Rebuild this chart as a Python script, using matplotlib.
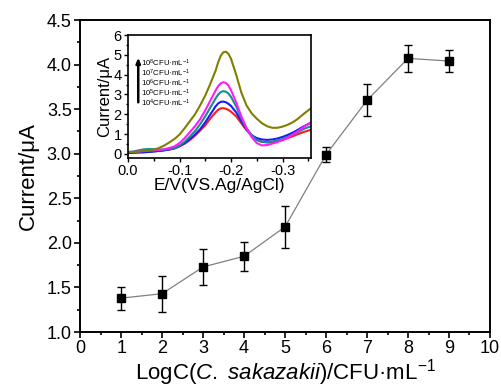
import matplotlib
matplotlib.use("Agg")
import matplotlib.pyplot as plt
from matplotlib.ticker import MultipleLocator

plt.rcParams['font.family'] = ['Liberation Sans', 'DejaVu Sans']
plt.rcParams['mathtext.fontset'] = 'custom'
plt.rcParams['mathtext.rm'] = 'Liberation Sans'
plt.rcParams['mathtext.it'] = 'Liberation Sans:italic'
plt.rcParams['mathtext.bf'] = 'Liberation Sans:bold'

# Main calibration data
log_c = [1, 2, 3, 4, 5, 6, 7, 8, 9]
current = [1.38, 1.43, 1.73, 1.85, 2.18, 2.99, 3.60, 4.07, 4.04]
current_err = [0.13, 0.20, 0.20, 0.16, 0.235, 0.08, 0.18, 0.15, 0.12]

# Inset DPV curves
potential = [0.0, -0.01, -0.02, -0.03, -0.04, -0.05, -0.06, -0.07, -0.08, -0.09,
             -0.10, -0.11, -0.12, -0.13, -0.14, -0.15, -0.16, -0.17, -0.175, -0.18,
             -0.185, -0.19, -0.195, -0.20, -0.21, -0.22, -0.23, -0.24, -0.25, -0.26,
             -0.27, -0.28, -0.29, -0.30, -0.31, -0.32, -0.33, -0.34, -0.355]
i_1e8 = [0.10, 0.10, 0.12, 0.15, 0.18, 0.22, 0.30, 0.42, 0.58, 0.75,
         0.98, 1.30, 1.65, 2.00, 2.45, 2.95, 3.55, 4.20, 4.62, 4.95,
         5.13, 5.16, 5.05, 4.80, 4.00, 3.10, 2.45, 2.05, 1.78, 1.55,
         1.40, 1.32, 1.32, 1.38, 1.47, 1.60, 1.78, 2.00, 2.30]
i_1e7 = [0.10, 0.10, 0.12, 0.15, 0.17, 0.18, 0.20, 0.24, 0.30, 0.38,
         0.55, 0.80, 1.10, 1.40, 1.75, 2.20, 2.70, 3.20, 3.42, 3.56,
         3.62, 3.58, 3.45, 3.22, 2.60, 1.90, 1.30, 0.85, 0.55, 0.43,
         0.45, 0.52, 0.60, 0.70, 0.82, 0.98, 1.15, 1.35, 1.60]
i_1e6 = [0.10, 0.12, 0.18, 0.23, 0.25, 0.24, 0.22, 0.22, 0.25, 0.30,
         0.42, 0.62, 0.88, 1.15, 1.50, 1.90, 2.35, 2.80, 3.00, 3.12,
         3.17, 3.14, 3.05, 2.88, 2.40, 1.80, 1.30, 0.95, 0.70, 0.60,
         0.60, 0.63, 0.68, 0.76, 0.86, 0.98, 1.10, 1.25, 1.40]
i_1e5 = [0.05, 0.06, 0.07, 0.08, 0.10, 0.12, 0.15, 0.18, 0.22, 0.28,
         0.40, 0.55, 0.75, 0.98, 1.25, 1.60, 2.00, 2.40, 2.55, 2.63,
         2.64, 2.61, 2.53, 2.42, 2.10, 1.65, 1.25, 0.95, 0.80, 0.73,
         0.71, 0.73, 0.78, 0.86, 0.96, 1.08, 1.22, 1.38, 1.57]
i_1e4 = [0.08, 0.08, 0.09, 0.10, 0.12, 0.14, 0.16, 0.19, 0.23, 0.28,
         0.38, 0.52, 0.70, 0.92, 1.18, 1.45, 1.80, 2.10, 2.23, 2.30,
         2.31, 2.28, 2.22, 2.13, 1.90, 1.55, 1.20, 0.92, 0.72, 0.62,
         0.58, 0.59, 0.64, 0.71, 0.80, 0.90, 1.00, 1.10, 1.22]
inset_series = [i_1e4, i_1e5, i_1e6, i_1e7, i_1e8]
inset_colors = ['#ff1a1a', '#1a1aff', '#1a8c8c', '#ff1aff', '#808000']
inset_labels = [r'10$^{8}$CFU·mL$^{-1}$', r'10$^{7}$CFU·mL$^{-1}$',
                r'10$^{6}$CFU·mL$^{-1}$', r'10$^{5}$CFU·mL$^{-1}$',
                r'10$^{4}$CFU·mL$^{-1}$']

fig = plt.figure(figsize=(5.01, 3.89), dpi=100)
ax = fig.add_axes([0.160, 0.1465, 0.818, 0.802])
ax.plot(log_c, current, color='#808080', lw=0.9, zorder=1)
ax.errorbar(log_c, current, yerr=current_err, fmt='s', color='black',
            ms=5.5, capsize=3, elinewidth=1.0, capthick=1.0, zorder=2)
ax.set_xlim(0, 10)
ax.set_ylim(1.0, 4.5)
ax.xaxis.set_major_locator(MultipleLocator(1))
ax.xaxis.set_minor_locator(MultipleLocator(0.5))
ax.yaxis.set_major_locator(MultipleLocator(0.5))
ax.yaxis.set_minor_locator(MultipleLocator(0.25))
ax.tick_params(which='both', direction='out', width=1.2, labelsize=13, pad=2)
ax.tick_params(which='major', length=4)
ax.tick_params(which='minor', length=2.5)
for s in ax.spines.values():
    s.set_linewidth(1.4)
ax.set_xlabel(r'LogC($\it{C.\ sakazakii}$)/CFU·mL$^{-1}$', fontsize=16, labelpad=0)
ax.set_ylabel('Current/μA', fontsize=16, labelpad=6)

ins = fig.add_axes([0.2555, 0.594, 0.365, 0.316])
for ys, c in zip(inset_series, inset_colors):
    ins.plot(potential, ys, color=c, lw=1.5)
ins.set_xlim(0, -0.355)
ins.set_ylim(-0.2, 6)
ins.xaxis.set_major_locator(MultipleLocator(0.1))
ins.xaxis.set_minor_locator(MultipleLocator(0.05))
ins.yaxis.set_major_locator(MultipleLocator(1))
ins.yaxis.set_minor_locator(MultipleLocator(0.5))
ins.tick_params(which='both', direction='out', width=1.0, labelsize=10.5, pad=1.5)
ins.tick_params(which='major', length=3)
ins.tick_params(which='minor', length=1.8)
ins.set_xticks([0, -0.1, -0.2, -0.3])
ins.set_xticklabels(['0.0', '-0.1', '-0.2', '-0.3'])
for s in ins.spines.values():
    s.set_linewidth(1.2)
ins.set_xlabel('E/V(VS.Ag/AgCl)', fontsize=12.5, labelpad=0)
ins.set_ylabel('Current/μA', fontsize=12, labelpad=1)

ins.annotate('', xy=(0.056, 0.84), xytext=(0.056, 0.43), xycoords='axes fraction',
             arrowprops=dict(arrowstyle='-|>,head_length=0.3,head_width=0.12',
                             color='black', lw=1.8))
rows = [0.770, 0.689, 0.607, 0.526, 0.445]
for y, t in zip(rows, inset_labels):
    ins.text(0.072, y, t, transform=ins.transAxes, fontsize=5.6, va='center', ha='left')

fig.savefig('out.png', dpi=100)
